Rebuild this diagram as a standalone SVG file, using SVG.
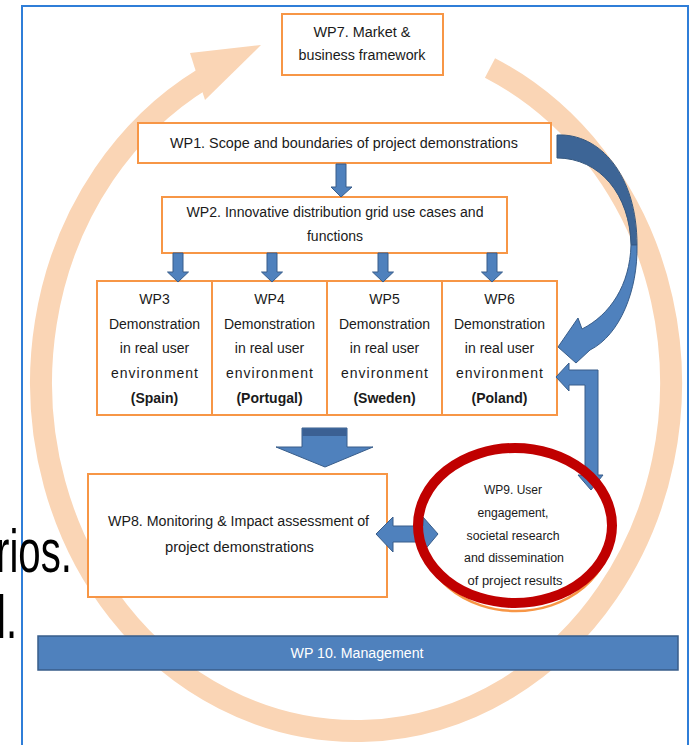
<svg xmlns="http://www.w3.org/2000/svg" width="694" height="745" viewBox="0 0 694 745">
<style>
.box{fill:#fff;stroke:#F79646;stroke-width:2}
.t{font-family:"Liberation Sans",Arial,sans-serif;font-size:14px;fill:#1a1a1a;text-anchor:middle}
.s{font-size:12px}
.b{font-weight:bold}
.arr{fill:#4F81BD;stroke:#385D8A;stroke-width:1}
.big{font-family:"Liberation Sans",Arial,sans-serif;font-size:62px;fill:#000}
</style>
<rect width="694" height="745" fill="#fff"/>
<path d="M22,746 V6 H688 V746" fill="none" stroke="#2F7ED8" stroke-width="2"/>
<g id="cycle">
<path d="M490,68 A315,348 0 1,1 203,78.8" fill="none" stroke="#FAD5B5" stroke-width="22"/>
<polygon points="261,45 190,53 205,100" fill="#FAD5B5"/>
</g>
<g id="wp7"><rect class="box" x="282" y="14" width="161" height="61"/>
<text class="t" x="362" y="37" textLength="97" lengthAdjust="spacingAndGlyphs">WP7. Market &amp;</text>
<text class="t" x="362" y="60" textLength="127" lengthAdjust="spacingAndGlyphs">business framework</text></g>
<g id="wp1"><rect class="box" x="138" y="123" width="413" height="40"/>
<text class="t" x="344" y="148" textLength="348" lengthAdjust="spacingAndGlyphs">WP1. Scope and boundaries of project demonstrations</text></g>
<g id="wp2"><rect class="box" x="162" y="197" width="345" height="56"/>
<text class="t" x="335" y="217" textLength="297" lengthAdjust="spacingAndGlyphs">WP2. Innovative distribution grid use cases and</text>
<text class="t" x="335" y="241">functions</text></g>
<g id="wp3"><rect class="box" x="97" y="281" width="115" height="134"/>
<text class="t" x="154.5" y="304">WP3</text><text class="t" x="154.5" y="329">Demonstration</text><text class="t" x="154.5" y="353">in real user</text><text class="t" x="154.5" y="378" textLength="87" lengthAdjust="spacing">environment</text><text class="t b" x="154.5" y="403">(Spain)</text></g>
<g id="wp4"><rect class="box" x="212" y="281" width="115" height="134"/>
<text class="t" x="269.5" y="304">WP4</text><text class="t" x="269.5" y="329">Demonstration</text><text class="t" x="269.5" y="353">in real user</text><text class="t" x="269.5" y="378" textLength="87" lengthAdjust="spacing">environment</text><text class="t b" x="269.5" y="403">(Portugal)</text></g>
<g id="wp5"><rect class="box" x="327" y="281" width="115" height="134"/>
<text class="t" x="384.5" y="304">WP5</text><text class="t" x="384.5" y="329">Demonstration</text><text class="t" x="384.5" y="353">in real user</text><text class="t" x="384.5" y="378" textLength="87" lengthAdjust="spacing">environment</text><text class="t b" x="384.5" y="403">(Sweden)</text></g>
<g id="wp6"><rect class="box" x="442" y="281" width="115" height="134"/>
<text class="t" x="499.5" y="304">WP6</text><text class="t" x="499.5" y="329">Demonstration</text><text class="t" x="499.5" y="353">in real user</text><text class="t" x="499.5" y="378" textLength="87" lengthAdjust="spacing">environment</text><text class="t b" x="499.5" y="403">(Poland)</text></g>
<g id="wp8"><rect class="box" x="88" y="474" width="299" height="123"/>
<text class="t" x="238.5" y="526" textLength="261" lengthAdjust="spacingAndGlyphs">WP8. Monitoring &amp; Impact assessment of</text>
<text class="t" x="239.5" y="552" textLength="149" lengthAdjust="spacingAndGlyphs">project demonstrations</text></g>
<g id="wp10"><rect x="38" y="636" width="640" height="34" fill="#4F81BD" stroke="#385D8A" stroke-width="1.5"/>
<text class="t" x="357" y="658" style="fill:#fff" textLength="133" lengthAdjust="spacingAndGlyphs">WP 10. Management</text></g>
<g id="wp9">
<ellipse cx="516" cy="530" rx="96" ry="81" fill="#fff" stroke="#F79646" stroke-width="2.5"/>
<text class="t s" x="513" y="493.5" textLength="58" lengthAdjust="spacingAndGlyphs">WP9. User</text>
<text class="t s" x="513" y="517" textLength="71" lengthAdjust="spacingAndGlyphs">engagement,</text>
<text class="t s" x="513" y="539.5" textLength="93" lengthAdjust="spacingAndGlyphs">societal research</text>
<text class="t s" x="514" y="562" textLength="100" lengthAdjust="spacingAndGlyphs">and dissemination</text>
<text class="t s" x="515" y="584.5" textLength="95" lengthAdjust="spacingAndGlyphs">of project results</text>
</g>
<g id="connectors">
<polygon class="arr" points="336,164 346,164 346,187 352,187 341,197 331,187 336,187"/>
<polygon class="arr" points="173,253 183,253 183,272 188.5,272 178,282 167.5,272 173,272"/>
<polygon class="arr" points="267,253 277,253 277,272 282.5,272 272,282 261.5,272 267,272"/>
<polygon class="arr" points="378,253 388,253 388,272 393.5,272 383,282 372.5,272 378,272"/>
<polygon class="arr" points="487,253 497,253 497,272 502.5,272 492,282 481.5,272 487,272"/>
<polygon class="arr" points="302,428 347,428 347,447 373,447 325,467 276,447 302,447"/>
<rect x="302.5" y="428.5" width="44" height="7.5" fill="#3B6093"/>
<polygon class="arr" points="376,534 393,517 393,526 423,526 423,517 438,534 423,552 423,542 393,542 393,552"/>
<polygon class="arr" points="556,377 569,363 569,370 598,370 598,475 603,475 591,490 578,475 585,475 585,385 569,385 569,391"/>
<path d="M557,135 C600,133 637,175 637,245 L631,245 C630,195 600,158 557,158 Z" fill="#3D6596" stroke="#34577F" stroke-width="1"/>
<path d="M637,245 C638,290 620,335 590,350 L576,363 L558,347 L578,318 L582,329 C610,315 630,285 631,245 Z" fill="#4F81BD" stroke="#385D8A" stroke-width="1"/>
</g>
<g id="wp9-highlight">
<ellipse cx="515" cy="525.5" rx="97" ry="77.5" fill="none" stroke="#C00000" stroke-width="10"/>
</g>
<text class="big" x="-4" y="572" textLength="76" lengthAdjust="spacingAndGlyphs">rios.</text>
<text class="big" x="-3" y="638" textLength="20" lengthAdjust="spacingAndGlyphs">l.</text>
</svg>
